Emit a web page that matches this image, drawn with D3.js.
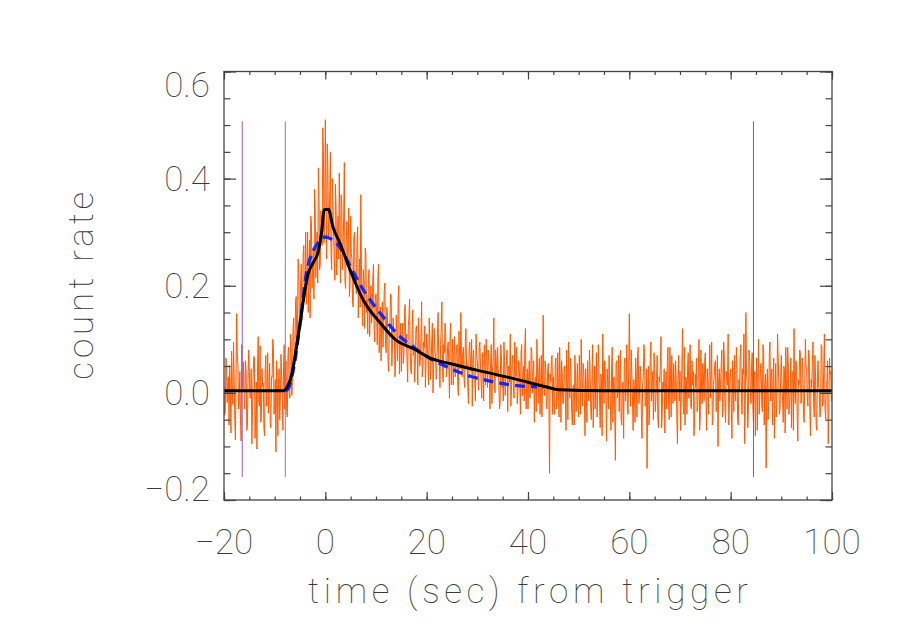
<!DOCTYPE html>
<html><head><meta charset="utf-8">
<script src="https://cdn.jsdelivr.net/npm/d3@7/dist/d3.min.js"></script>
<style>
body{margin:0;background:#fff}
svg text{font-family:"Roboto","DejaVu Sans",sans-serif;font-weight:100;fill:#3a3a3a}
</style>
</head><body><svg id="c" width="900" height="643"></svg>
<script>
// ---- data ----
// light curve, 0.125 s bins starting at t = -20 s; stored as two interleaved half-bin series
const timeStart = -20, binWidth = 0.125;
const countRateA = [
.012,-.035,.048,.020,-.060,.005,.078,-.022,.035,-.088,.148,.052,-.015,-.045,.090,.008,-.030,.060,-.070,.025,.040,-.010,-.095,.030,.065,-.040,-.105,.105,-.025,-.055,.045,.018,-.080,.070,.002,-.038,.055,-.065,.028,.085,-.020,-.110,.038,.015,-.050,.072,-.005,.048,
-.030,.060,-.045,.085,-.010,.095,.020,.140,.065,.180,.110,.230,
.120,.240,.150,.275,.190,.165,.300,.210,.140,.320,.235,.175,.350,.260,.205,.365,.240,.310,.495,.280,
.510,.250,.420,.300,.450,.230,.360,.250,.390,.220,.330,.410,.205,.350,.270,.430,.195,.320,.265,.180,.330,.250,.160,.300,.215,.280,.140,.250,.370,.170,.230,.120,.260,.175,.215,.105,.200,.150,.240,.095,
.185,.090,.240,.110,.060,.170,.130,.205,.075,.150,.040,.130,.180,.085,.120,.030,.145,.060,.200,.095,.040,.130,.070,.165,.110,.020,.140,.075,.035,.155,.090,.050,.125,.015,.100,.060,.170,.045,.085,.010,
.110,.065,.140,.025,.095,.000,.120,.070,.035,.150,.055,.090,.170,.020,.075,.110,.040,.095,-.010,.130,.060,.015,.105,.045,.090,-.005,.070,.150,.030,.085,.010,.120,.055,-.020,.095,.040,-.025,.080,.025,.110,
.060,.005,.095,.020,.075,-.015,.050,.100,.010,.065,-.030,.090,.040,.140,.000,.055,.085,.015,-.020,.070,.030,.095,-.005,.060,-.035,.050,.110,.015,.070,-.010,.040,.085,.000,.055,-.040,.090,.035,-.015,.120,.020,
-.030,.060,.005,.075,.040,-.055,.030,.100,-.020,.065,.010,-.045,.145,-.005,.045,-.030,.055,-.150,.020,.070,
.030,-.040,.065,-.015,.010,.085,-.055,.040,-.020,.050,-.070,.025,.095,-.010,.035,-.060,.015,.070,-.035,.055,-.045,.020,.100,-.025,.040,-.080,.010,.060,-.015,.045,-.050,.090,.005,-.030,.075,-.005,.050,-.065,.025,.110,
-.020,.035,-.090,.015,.070,-.010,.045,-.055,.030,-.126,.060,.000,-.035,.080,-.060,.020,.055,-.015,.090,-.040,.148,-.025,.035,-.070,.010,.065,-.045,.085,-.005,.040,-.085,.030,.075,-.020,-.141,.050,-.030,.095,.015,-.050,
.045,-.010,.070,-.065,.020,.105,-.035,.005,-.075,.040,.060,-.020,.085,-.045,.010,.055,-.015,.030,-.095,.070,.040,-.005,.120,-.040,-.060,.025,.050,-.010,.090,-.030,.015,-.080,.035,.065,-.025,.100,-.045,.010,.055,-.015,
.075,-.070,.020,.040,-.010,.095,-.050,.030,.060,-.025,-.100,.045,.015,.080,-.035,.065,-.055,.025,.110,-.020,.045,-.085,.030,.070,-.015,.055,-.060,.005,.090,-.040,.035,-.095,.150,.020,-.030,.060,-.020,.075,-.055,.040,
.010,-.070,.100,-.005,.055,-.035,.080,.015,-.140,.045,-.025,.095,.030,-.060,.065,-.010,-.045,.110,.020,-.030,.070,-.015,.050,-.075,.025,.085,-.040,.010,-.065,.040,.120,-.020,.055,-.090,.015,.075,-.010,.035,-.055,.100,
.045,-.025,.070,-.080,.010,.095,-.045,.030,-.070,.060,.005,-.035,.085,-.015,.110,-.050,.020,-.095,.065,.040
];
const countRateB = [
-.042,.065,-.018,.030,.052,-.075,.015,.095,-.050,.022,.070,-.030,.040,-.090,.010,.058,-.020,.035,-.060,.080,-.008,.045,-.035,.068,-.085,.020,.050,-.015,.088,-.045,.012,-.065,.040,-.025,.075,.005,-.055,.030,.100,-.040,.025,.060,-.080,.045,-.010,.035,-.070,.090,
.040,-.035,.070,.000,.110,-.005,.120,.045,.170,.080,.250,.135,
.205,.135,.260,.170,.300,.215,.150,.285,.330,.195,.270,.380,.215,.300,.420,.230,.340,.275,.450,.330,
.370,.465,.290,.380,.260,.400,.300,.210,.345,.280,.250,.310,.370,.230,.330,.210,.280,.240,.345,.200,.260,.170,.290,.220,.185,.310,.200,.160,.240,.125,.205,.270,.150,.110,.230,.165,.130,.215,.120,.175,
.150,.215,.075,.160,.140,.085,.190,.095,.160,.060,.115,.185,.050,.140,.105,.070,.115,.175,.035,.130,.100,.055,.150,.090,.060,.125,.175,.040,.110,.070,.020,.120,.085,.140,.050,.105,.030,.095,.125,.060,
.085,.015,.100,.055,.130,.045,.080,.025,.105,.065,.010,.120,.045,.090,.130,.030,.085,.050,.110,.015,.100,.070,.030,.085,.020,.115,.045,.060,.075,.025,.095,.050,.010,.080,.055,.100,.065,.030,-.015,.070,
.035,.085,.050,-.010,.045,.090,.015,.060,.080,.025,.055,-.020,.065,.015,.080,.030,.045,-.030,.090,.010,-.015,.060,.040,.080,.050,.020,-.025,.065,.010,.095,.030,-.020,.060,.020,.075,-.005,.050,.085,-.030,.045,
.030,-.010,.085,.000,.060,.020,-.035,.050,.035,-.040,.070,.025,.010,.060,-.025,.040,-.010,.035,.065,-.040,
-.010,.050,-.030,.075,-.045,.025,.060,-.020,.040,-.010,.080,-.050,.020,.065,-.035,.010,-.060,.035,.005,-.025,.070,-.040,.030,.055,-.010,.045,-.055,.020,.080,-.030,.015,-.065,.050,.025,-.045,.090,-.015,.035,-.080,.040,
.060,-.005,.045,-.030,.015,-.070,.085,.020,-.040,.055,-.010,.070,.030,-.050,.015,-.085,.065,.010,-.030,.045,.040,.080,-.015,.025,-.055,.030,.070,-.020,.050,-.040,.015,.090,-.025,.045,.010,-.060,.060,-.015,.040,.075,
-.035,.025,-.050,.030,.055,-.065,.020,.045,.010,-.030,.085,-.050,.035,.070,-.020,.010,.060,-.045,.025,-.015,-.070,.050,-.020,.085,.030,-.040,.075,.015,-.025,.060,.040,-.050,.010,-.035,.050,-.070,.080,-.020,.035,.060,
-.015,.045,-.040,.090,.025,-.060,.015,.055,-.035,.070,.020,-.015,.050,-.045,.095,-.025,.040,.015,-.060,.030,-.020,.060,-.035,.010,.085,-.050,.025,.070,-.010,.045,.110,-.035,.035,-.065,.080,.005,.050,-.020,.030,-.080,
.065,.025,-.040,.045,-.020,.090,-.060,.035,.010,-.050,.070,-.015,.045,.020,-.085,.055,-.010,.065,-.040,.030,.015,-.055,.040,.085,-.030,.050,-.020,.065,.035,-.070,.010,.060,-.040,.025,.080,-.020,.065,-.045,.015,.050,
-.010,.080,-.035,.025,.055,-.020,.070,-.060,.030,.010,-.045,.090,-.025,.050,-.030,.020,.060,-.040,.035,-.015
];
const countRate = d3.merge(d3.zip(countRateA, countRateB));
const markerTimes = [-16.4, -7.9, 84.5];
const markerRange = [-0.157, 0.507];
const fitSolidT = [-20,-8.2,-7.6,-6.9,-6.3,-5.7,-5,-4.3,-3.4,-2.4,-1.4,-0.7,-0.25,0.6,1.5,2.9,4.9,7.5,10.8,14,17.3,20.7,25,30.5,37,43.7,46,55,100];
const fitSolidV = [0.004,0.004,0.01,0.025,0.05,0.085,0.128,0.175,0.222,0.243,0.264,0.302,0.342,0.343,0.31,0.279,0.229,0.173,0.131,0.098,0.083,0.065,0.054,0.041,0.027,0.011,0.006,0.004,0.004];
const fitDashT = [-7.8,-7.2,-6.6,-6,-5,-3.7,-2.4,-1,0,1,3,5,7,9.5,11.4,14,17.3,20.7,24.6,28.6,32.5,37,41.8];
const fitDashV = [0.004,0.01,0.03,0.06,0.13,0.225,0.265,0.285,0.291,0.288,0.27,0.235,0.2,0.165,0.142,0.112,0.086,0.064,0.046,0.031,0.022,0.0145,0.011];
const xMajor = [-20,0,20,40,60,80,100];
const xMinor = d3.range(-20,100.1,5);
const yMajor = [-0.2,0.0,0.2,0.4,0.6];
const yMinor = d3.range(-0.2,0.6001,0.05);
const xLabels = ["\u221220","0","20","40","60","80","100"];
const yLabels = ["\u22120.2","0.0","0.2","0.4","0.6"];

// ---- layout ----
const L=224, R=832, T=71.5, B=500;
const svg = d3.select("#c");
const x = d3.scaleLinear().domain([-20,100]).range([L,R]);
const y = d3.scaleLinear().domain([-0.2,0.6]).range([B,T]);

svg.append("clipPath").attr("id","clip").append("rect")
  .attr("x",L).attr("y",T).attr("width",R-L).attr("height",B-T);
const plot = svg.append("g").attr("clip-path","url(#clip)");

// orange light curve
const lc = countRate.map((v,i)=>({t: timeStart + i*binWidth, v}));
plot.append("path").datum(lc)
  .attr("fill","none").attr("stroke","#ff5a00").attr("stroke-width",1)
  .attr("d", d3.line().x(d=>x(d.t)).y(d=>y(d.v)));

// purple markers
const mColors = ["#9a5cc6","#8f6fe0","#8c5a8c"];
plot.selectAll("line.m").data(markerTimes).join("line")
  .attr("x1",d=>x(d)).attr("x2",d=>x(d))
  .attr("y1",y(markerRange[1])).attr("y2",y(markerRange[0]))
  .attr("stroke",(d,i)=>mColors[i]).attr("stroke-width",1);

// dashed fit
const dashPts = fitDashT.map((t,i)=>({t, v: fitDashV[i]}));
plot.append("path").datum(dashPts)
  .attr("fill","none").attr("stroke","#1428ff").attr("stroke-width",3.3)
  .attr("stroke-dasharray","10,6")
  .attr("d", d3.line().x(d=>x(d.t)).y(d=>y(d.v)).curve(d3.curveMonotoneX));

// solid fit
const solidPts = fitSolidT.map((t,i)=>({t, v: fitSolidV[i]}));
plot.append("path").datum(solidPts)
  .attr("fill","none").attr("stroke","#000").attr("stroke-width",3)
  .attr("stroke-linejoin","round")
  .attr("d", d3.line().x(d=>x(d.t)).y(d=>y(d.v)).curve(d3.curveMonotoneX));

// ---- axes ----
const axCol = "#444";
function styleAxis(g){
  g.select(".domain").remove();
  g.selectAll("line").attr("stroke",axCol).attr("stroke-width",1.2);
  g.selectAll("text").remove();
}
svg.append("g").attr("transform",`translate(0,${B})`)
  .call(d3.axisBottom(x).tickValues(xMinor).tickSize(-3.5).tickSizeOuter(0)).call(styleAxis);
svg.append("g").attr("transform",`translate(0,${B})`)
  .call(d3.axisBottom(x).tickValues(xMajor).tickSize(-8).tickSizeOuter(0)).call(styleAxis);
svg.append("g").attr("transform",`translate(0,${T})`)
  .call(d3.axisTop(x).tickValues(xMinor).tickSize(-3.5).tickSizeOuter(0)).call(styleAxis);
svg.append("g").attr("transform",`translate(0,${T})`)
  .call(d3.axisTop(x).tickValues(xMajor).tickSize(-8).tickSizeOuter(0)).call(styleAxis);
svg.append("g").attr("transform",`translate(${L},0)`)
  .call(d3.axisLeft(y).tickValues(yMinor).tickSize(-6.5).tickSizeOuter(0)).call(styleAxis);
svg.append("g").attr("transform",`translate(${L},0)`)
  .call(d3.axisLeft(y).tickValues(yMajor).tickSize(-12).tickSizeOuter(0)).call(styleAxis);
svg.append("g").attr("transform",`translate(${R},0)`)
  .call(d3.axisRight(y).tickValues(yMinor).tickSize(-6.5).tickSizeOuter(0)).call(styleAxis);
svg.append("g").attr("transform",`translate(${R},0)`)
  .call(d3.axisRight(y).tickValues(yMajor).tickSize(-12).tickSizeOuter(0)).call(styleAxis);

svg.append("rect").attr("x",L).attr("y",T).attr("width",R-L).attr("height",B-T)
  .attr("fill","none").attr("stroke",axCol).attr("stroke-width",1.3);

// tick labels
const fs = "35px";
svg.selectAll("text.xl").data(xMajor).join("text").attr("class","xl")
  .attr("x",d=>x(d)).attr("y",554).attr("text-anchor","middle")
  .style("font-size",fs).text((d,i)=>xLabels[i]);
const yShift = v => v===0.6 ? 13 : (v===-0.2 ? -12 : 0);
svg.selectAll("text.yl").data(yMajor).join("text").attr("class","yl")
  .attr("x",210).attr("y",d=>y(d)+yShift(d)+12.5).attr("text-anchor","end")
  .style("font-size",fs).text((d,i)=>yLabels[i]);

// titles
svg.append("text").attr("x",(L+R)/2).attr("y",603).attr("text-anchor","middle")
  .style("font-size",fs).attr("textLength",440).attr("lengthAdjust","spacing")
  .text("time (sec) from trigger");
svg.append("text").attr("transform",`translate(93,${(T+B)/2}) rotate(-90)`)
  .attr("text-anchor","middle").style("font-size",fs)
  .attr("textLength",188).attr("lengthAdjust","spacing")
  .text("count rate");
</script>
</body></html>
